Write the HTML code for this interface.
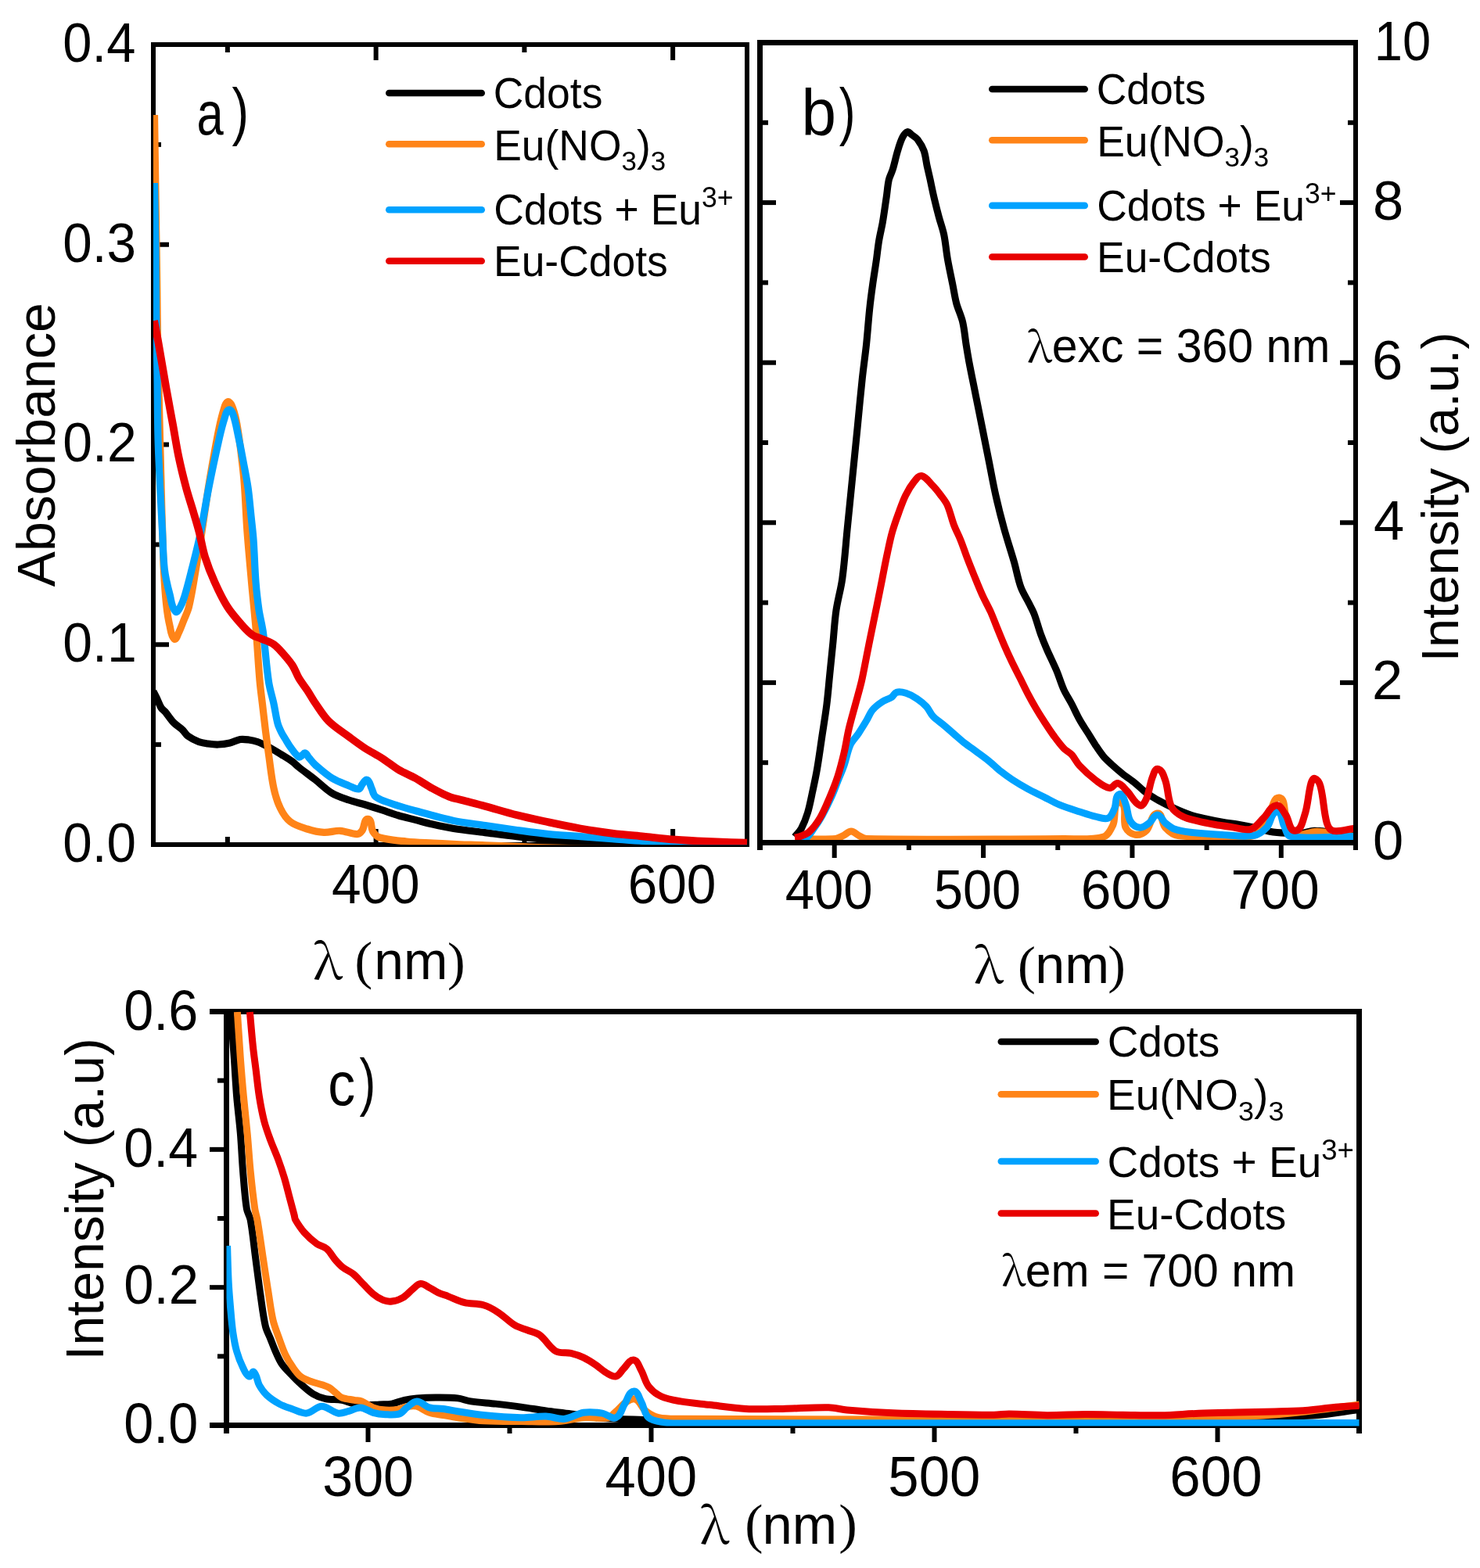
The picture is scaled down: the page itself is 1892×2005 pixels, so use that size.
<!DOCTYPE html>
<html><head><meta charset="utf-8"><title>Figure</title><style>html,body{margin:0;padding:0;background:#fff;overflow:hidden}svg{display:block}</style></head><body>
<svg width="1892" height="2005" viewBox="0 0 1892 2005">
<rect width="1892" height="2005" fill="#fff"/>
<defs><clipPath id="ca"><rect x="196" y="57" width="759.5" height="1023.3"/></clipPath><clipPath id="cb"><rect x="975" y="58" width="755" height="1016"/></clipPath><clipPath id="cc"><rect x="289.5" y="1293.5" width="1448" height="530"/></clipPath></defs>
<rect x="193" y="54" width="6" height="1029" fill="#000"/>
<rect x="952" y="54" width="6" height="1029" fill="#000"/>
<rect x="193" y="54" width="765" height="6" fill="#000"/>
<rect x="193" y="1077" width="765" height="6" fill="#000"/>
<rect x="199" y="821.2500000000001" width="17" height="6.0" fill="#000"/>
<rect x="199" y="565.5" width="17" height="6.0" fill="#000"/>
<rect x="199" y="309.75000000000006" width="17" height="6.0" fill="#000"/>
<rect x="199" y="949.125" width="7" height="6.0" fill="#000"/>
<rect x="199" y="693.375" width="7" height="6.0" fill="#000"/>
<rect x="199" y="437.62500000000006" width="7" height="6.0" fill="#000"/>
<rect x="199" y="181.8750000000001" width="7" height="6.0" fill="#000"/>
<rect x="477.625" y="1060" width="6.0" height="17" fill="#000"/>
<rect x="477.625" y="60" width="6.0" height="17" fill="#000"/>
<rect x="857.125" y="1060" width="6.0" height="17" fill="#000"/>
<rect x="857.125" y="60" width="6.0" height="17" fill="#000"/>
<rect x="287.875" y="1070" width="6.0" height="7" fill="#000"/>
<rect x="287.875" y="60" width="6.0" height="7" fill="#000"/>
<rect x="667.375" y="1070" width="6.0" height="7" fill="#000"/>
<rect x="667.375" y="60" width="6.0" height="7" fill="#000"/>
<rect x="968" y="51" width="7" height="1036" fill="#000"/>
<rect x="1730" y="51" width="6" height="1036" fill="#000"/>
<rect x="968" y="51" width="768" height="7" fill="#000"/>
<rect x="968" y="1074" width="768" height="7" fill="#000"/>
<rect x="975" y="869.9" width="17" height="6.0" fill="#000"/>
<rect x="1713" y="869.9" width="17" height="6.0" fill="#000"/>
<rect x="975" y="665.3" width="17" height="6.0" fill="#000"/>
<rect x="1713" y="665.3" width="17" height="6.0" fill="#000"/>
<rect x="975" y="460.70000000000005" width="17" height="6.0" fill="#000"/>
<rect x="1713" y="460.70000000000005" width="17" height="6.0" fill="#000"/>
<rect x="975" y="256.1" width="17" height="6.0" fill="#000"/>
<rect x="1713" y="256.1" width="17" height="6.0" fill="#000"/>
<rect x="975" y="972.2" width="7" height="6.0" fill="#000"/>
<rect x="1723" y="972.2" width="7" height="6.0" fill="#000"/>
<rect x="975" y="767.6" width="7" height="6.0" fill="#000"/>
<rect x="1723" y="767.6" width="7" height="6.0" fill="#000"/>
<rect x="975" y="563.0" width="7" height="6.0" fill="#000"/>
<rect x="1723" y="563.0" width="7" height="6.0" fill="#000"/>
<rect x="975" y="358.4" width="7" height="6.0" fill="#000"/>
<rect x="1723" y="358.4" width="7" height="6.0" fill="#000"/>
<rect x="975" y="153.80000000000007" width="7" height="6.0" fill="#000"/>
<rect x="1723" y="153.80000000000007" width="7" height="6.0" fill="#000"/>
<rect x="1063.6875" y="1081" width="6.0" height="16" fill="#000"/>
<rect x="1254.0625" y="1081" width="6.0" height="16" fill="#000"/>
<rect x="1444.4375" y="1081" width="6.0" height="16" fill="#000"/>
<rect x="1634.8125" y="1081" width="6.0" height="16" fill="#000"/>
<rect x="1158.875" y="1081" width="6.0" height="6" fill="#000"/>
<rect x="1349.25" y="1081" width="6.0" height="6" fill="#000"/>
<rect x="1539.625" y="1081" width="6.0" height="6" fill="#000"/>
<rect x="286" y="1290" width="7" height="543" fill="#000"/>
<rect x="1734" y="1290" width="7" height="543" fill="#000"/>
<rect x="268" y="1290" width="1473" height="7" fill="#000"/>
<rect x="268" y="1819" width="1473" height="7" fill="#000"/>
<rect x="268" y="1643.1666666666667" width="18" height="6.0" fill="#000"/>
<rect x="268" y="1466.8333333333333" width="18" height="6.0" fill="#000"/>
<rect x="278" y="1731.3333333333333" width="8" height="6.0" fill="#000"/>
<rect x="278" y="1555.0" width="8" height="6.0" fill="#000"/>
<rect x="278" y="1378.6666666666665" width="8" height="6.0" fill="#000"/>
<rect x="467.5" y="1826" width="6.0" height="18" fill="#000"/>
<rect x="829.5" y="1826" width="6.0" height="18" fill="#000"/>
<rect x="1191.5" y="1826" width="6.0" height="18" fill="#000"/>
<rect x="1553.5" y="1826" width="6.0" height="18" fill="#000"/>
<rect x="648.5" y="1826" width="6.0" height="7" fill="#000"/>
<rect x="1010.5" y="1826" width="6.0" height="7" fill="#000"/>
<rect x="1372.5" y="1826" width="6.0" height="7" fill="#000"/>
<path d="M196.0,884.0 C197.3,886.7 198.7,889.3 200.0,892.0 C202.1,896.3 203.5,900.9 206.0,905.0 C207.2,907.0 209.5,908.2 211.0,910.0 C214.8,914.5 217.9,919.7 222.0,924.0 C225.3,927.4 229.6,929.7 233.0,933.0 C235.6,935.4 237.1,938.9 240.0,941.0 C244.3,944.1 249.1,946.6 254.0,948.5 C257.8,950.0 262.0,950.4 266.0,951.0 C270.3,951.6 274.7,952.2 279.0,952.0 C284.0,951.8 289.1,951.1 294.0,950.0 C298.5,949.0 302.5,946.3 307.0,945.5 C310.6,944.9 314.4,945.5 318.0,946.0 C321.7,946.5 325.5,947.2 329.0,948.5 C333.8,950.2 338.5,952.6 343.0,955.0 C348.8,958.1 354.4,961.6 360.0,965.0 C364.7,967.9 369.5,970.7 374.0,974.0 C376.9,976.1 379.2,978.8 382.0,981.0 C388.9,986.5 396.1,991.6 403.0,997.0 C410.1,1002.6 416.3,1009.3 424.0,1014.0 C430.8,1018.1 438.5,1020.4 446.0,1023.0 C452.9,1025.4 460.0,1026.9 467.0,1029.0 C474.0,1031.1 481.0,1033.4 488.0,1035.7 C495.3,1038.1 502.6,1040.8 510.0,1043.0 C516.9,1045.0 524.0,1046.6 531.0,1048.4 C538.0,1050.2 545.0,1052.2 552.0,1053.8 C561.3,1055.9 570.6,1058.0 580.0,1059.5 C593.3,1061.6 606.7,1062.9 620.0,1064.6 C633.7,1066.3 647.3,1068.1 661.0,1069.6 C674.3,1071.1 687.6,1072.5 701.0,1073.7 C714.7,1074.9 728.3,1075.9 742.0,1076.7 C755.3,1077.5 768.7,1078.2 782.0,1078.7 C798.0,1079.3 814.0,1079.8 830.0,1080.0 C871.7,1080.6 913.3,1080.7 955.0,1081.0" fill="none" stroke="#000000" stroke-width="9.2" stroke-linejoin="round" stroke-linecap="butt" clip-path="url(#ca)"/>
<path d="M197.5,147.0 C198.0,181.3 198.5,215.7 199.0,250.0 C199.5,283.3 200.0,316.7 200.5,350.0 C200.9,376.7 201.1,403.3 201.5,430.0 C201.9,453.3 202.5,476.7 203.0,500.0 C203.5,520.0 204.0,540.0 204.5,560.0 C205.0,580.0 205.5,600.0 206.0,620.0 C206.6,643.3 207.2,666.7 208.0,690.0 C208.6,706.7 209.0,723.3 210.0,740.0 C210.7,752.0 211.6,764.0 213.0,776.0 C213.9,784.1 215.1,792.1 217.0,800.0 C218.4,805.8 218.4,813.0 222.8,817.0 C225.0,819.0 226.7,812.6 228.0,810.0 C230.8,804.5 232.7,798.7 235.0,793.0 C237.2,787.4 240.1,781.9 241.5,776.0 C245.1,760.8 247.4,745.4 250.0,730.0 C252.9,713.4 255.4,696.7 258.0,680.0 C260.8,662.0 263.2,644.0 266.0,626.0 C268.2,612.3 270.6,598.6 273.0,585.0 C275.2,572.6 277.4,560.3 280.0,548.0 C281.7,539.9 283.5,531.9 286.0,524.0 C287.1,520.5 287.6,515.9 290.8,514.0 C292.7,512.9 295.1,516.0 296.0,518.0 C298.9,524.3 300.6,531.2 302.0,538.0 C304.2,548.6 305.6,559.3 307.0,570.0 C308.9,585.0 310.8,600.0 312.0,615.0 C313.8,636.6 314.4,658.4 316.0,680.0 C317.6,701.4 319.6,722.7 321.5,744.0 C323.4,765.3 325.7,786.6 327.5,808.0 C329.2,828.6 330.2,849.4 332.0,870.0 C333.0,881.7 334.7,893.3 336.0,905.0 C337.2,915.0 338.3,925.0 339.5,935.0 C340.8,945.0 342.1,955.0 343.5,965.0 C345.6,979.3 346.9,993.8 350.0,1008.0 C351.9,1016.7 354.4,1025.5 358.4,1033.5 C361.5,1039.9 365.4,1046.3 371.0,1050.6 C377.2,1055.4 385.1,1057.6 392.6,1060.0 C399.5,1062.2 406.7,1064.0 414.0,1064.4 C421.0,1064.8 428.0,1061.9 435.0,1062.3 C442.3,1062.7 449.2,1066.7 456.5,1066.6 C459.2,1066.6 461.4,1064.2 463.0,1062.0 C466.2,1057.6 465.0,1046.8 470.4,1047.4 C476.1,1048.0 473.7,1058.6 476.8,1063.4 C478.9,1066.7 481.9,1069.9 485.6,1071.0 C496.6,1074.2 508.3,1074.8 519.7,1076.0 C531.0,1077.2 542.4,1077.4 553.8,1078.0 C565.2,1078.6 576.6,1079.3 588.0,1079.8 C598.7,1080.2 609.3,1080.3 620.0,1080.8 C638.3,1081.4 656.7,1082.5 675.0,1083.1 C700.0,1083.9 725.0,1084.7 750.0,1085.0 C818.3,1085.7 886.7,1085.7 955.0,1086.0" fill="none" stroke="#FF8418" stroke-width="9.2" stroke-linejoin="round" stroke-linecap="butt" clip-path="url(#ca)"/>
<path d="M197.5,234.0 C198.0,262.7 198.6,291.3 199.0,320.0 C199.3,346.7 199.3,373.3 199.6,400.0 C199.9,426.7 200.6,453.3 201.0,480.0 C201.4,506.7 201.3,533.3 202.0,560.0 C202.5,580.0 203.6,600.0 204.5,620.0 C205.4,640.0 206.5,660.0 207.6,680.0 C208.5,696.0 208.4,712.1 210.3,728.0 C211.6,738.8 214.2,749.5 217.0,760.0 C219.0,767.5 219.1,776.3 224.4,782.0 C226.6,784.3 229.4,777.8 231.0,775.0 C233.6,770.3 235.2,765.1 236.7,760.0 C239.9,749.4 242.5,738.7 245.2,728.0 C248.8,713.7 252.6,699.4 255.6,685.0 C259.8,664.8 262.8,644.3 266.8,624.0 C271.0,602.6 275.6,581.3 280.4,560.0 C282.3,551.6 284.3,543.2 287.0,535.0 C288.3,531.1 288.7,525.7 292.4,524.0 C294.9,522.9 297.1,527.4 298.0,530.0 C301.4,539.7 302.9,550.0 305.1,560.0 C307.3,570.0 309.1,580.0 311.0,590.0 C313.1,601.3 315.5,612.6 317.1,624.0 C318.8,635.9 319.7,648.0 321.0,660.0 C322.0,670.0 323.3,680.0 324.0,690.0 C325.3,708.0 325.6,726.0 327.0,744.0 C327.9,756.0 329.3,768.1 331.0,780.0 C332.4,789.4 335.0,798.6 336.3,808.0 C339.2,829.3 340.3,850.8 343.5,872.0 C344.9,881.5 348.0,890.6 350.0,900.0 C351.8,908.3 352.8,916.8 355.0,925.0 C356.1,929.2 358.1,933.1 360.0,937.0 C361.4,939.8 363.2,942.3 364.8,945.0 C366.8,948.3 368.7,951.9 371.0,955.0 C374.4,959.5 377.4,964.6 382.0,968.0 C383.2,968.9 384.7,966.8 386.0,966.0 C387.4,965.1 388.4,962.5 390.0,963.0 C392.5,963.8 393.3,967.0 395.0,969.0 C397.6,972.0 400.0,975.3 403.0,978.0 C409.9,984.0 416.7,990.2 424.5,995.0 C431.2,999.1 438.7,1001.7 446.0,1004.7 C450.1,1006.4 454.3,1009.4 458.7,1009.0 C461.1,1008.8 461.3,1004.8 463.0,1003.0 C464.9,1000.9 466.7,996.2 469.3,997.3 C473.0,998.9 473.2,1004.4 475.0,1008.0 C476.8,1011.5 476.9,1016.2 480.0,1018.6 C485.4,1022.9 492.5,1024.7 499.0,1027.0 C509.5,1030.7 520.3,1033.7 531.0,1036.7 C547.3,1041.2 563.5,1045.9 580.0,1049.4 C593.4,1052.2 607.0,1053.5 620.5,1055.5 C634.0,1057.5 647.5,1059.6 661.0,1061.5 C674.5,1063.3 688.0,1065.2 701.5,1066.6 C715.0,1067.9 728.5,1068.6 742.0,1069.6 C755.5,1070.6 769.1,1071.7 782.6,1072.7 C796.1,1073.7 809.5,1074.9 823.0,1075.7 C836.5,1076.5 850.1,1077.4 863.6,1077.7 C894.1,1078.3 924.5,1078.2 955.0,1078.5" fill="none" stroke="#00A2FF" stroke-width="9.2" stroke-linejoin="round" stroke-linecap="butt" clip-path="url(#ca)"/>
<path d="M197.0,410.0 C198.9,420.0 201.0,430.0 202.8,440.0 C206.1,458.6 209.1,477.4 212.4,496.0 C215.2,512.0 218.3,528.0 221.2,544.0 C223.6,557.3 225.6,570.7 228.4,584.0 C231.2,597.4 234.5,610.8 238.0,624.0 C240.9,634.8 244.5,645.3 247.6,656.0 C250.0,664.0 252.4,671.9 254.5,680.0 C257.2,690.6 258.8,701.5 262.0,712.0 C265.4,722.9 269.6,733.6 274.3,744.0 C279.2,754.9 284.3,765.9 290.8,776.0 C296.3,784.6 303.2,792.3 310.0,800.0 C313.9,804.4 317.9,808.7 322.7,812.0 C326.0,814.3 330.3,815.1 334.0,816.7 C339.4,819.1 345.2,820.6 350.0,824.0 C354.9,827.4 358.7,832.2 362.7,836.7 C366.7,841.2 370.7,845.9 374.0,851.0 C377.2,856.0 379.0,861.9 382.0,867.0 C385.3,872.6 389.4,877.6 393.0,883.0 C396.5,888.3 399.4,893.8 403.0,899.0 C408.4,906.8 413.3,915.3 420.0,922.0 C427.7,929.7 437.2,935.5 446.0,942.0 C452.9,947.1 459.8,952.3 467.0,957.0 C474.0,961.5 481.5,965.1 488.5,969.6 C495.8,974.3 502.5,980.0 510.0,984.5 C516.7,988.5 524.2,991.2 531.0,995.0 C538.3,999.1 545.2,1004.0 552.5,1008.0 C559.5,1011.8 566.6,1015.6 574.0,1018.6 C579.1,1020.7 584.7,1021.6 590.0,1023.0 C600.2,1025.7 610.4,1028.2 620.5,1031.0 C634.0,1034.7 647.4,1038.9 661.0,1042.3 C674.4,1045.7 688.0,1048.5 701.5,1051.4 C715.0,1054.3 728.4,1057.1 742.0,1059.5 C755.5,1061.9 769.0,1063.9 782.6,1065.6 C796.0,1067.3 809.5,1068.3 823.0,1069.6 C836.5,1071.0 850.0,1072.6 863.6,1073.7 C877.0,1074.8 890.5,1075.4 904.0,1076.0 C921.0,1076.7 938.0,1077.1 955.0,1077.7" fill="none" stroke="#E80000" stroke-width="9.8" stroke-linejoin="round" stroke-linecap="butt" clip-path="url(#ca)"/>
<path d="M1016.0,1070.0 C1018.8,1066.5 1022.3,1063.4 1024.4,1059.5 C1027.8,1053.1 1030.4,1046.2 1032.5,1039.3 C1035.1,1030.7 1036.7,1021.7 1038.6,1012.9 C1040.8,1002.8 1043.0,992.8 1044.7,982.6 C1047.0,969.1 1048.8,955.5 1050.8,942.0 C1052.8,928.5 1055.1,915.0 1056.8,901.5 C1058.5,888.0 1059.5,874.5 1060.9,861.0 C1062.3,847.5 1063.6,834.0 1065.0,820.5 C1066.3,807.0 1067.0,793.4 1069.0,780.0 C1071.0,766.5 1075.0,753.3 1076.8,739.8 C1079.7,718.6 1081.1,697.2 1083.2,675.9 C1085.3,654.6 1087.5,633.3 1089.6,612.0 C1091.7,590.7 1093.9,569.3 1096.0,548.0 C1098.1,526.7 1100.0,505.3 1102.3,484.0 C1103.9,469.3 1106.0,454.7 1107.6,440.0 C1109.1,425.4 1110.1,410.6 1111.6,396.0 C1112.7,385.3 1114.1,374.6 1115.6,364.0 C1117.1,353.3 1118.9,342.7 1120.4,332.0 C1121.5,324.0 1122.3,316.0 1123.6,308.0 C1124.9,300.0 1127.0,292.0 1128.4,284.0 C1130.2,273.4 1131.6,262.7 1133.2,252.0 C1134.3,244.5 1134.7,237.0 1136.4,229.6 C1137.4,225.2 1139.9,221.2 1141.2,216.8 C1143.6,208.9 1145.2,200.7 1147.6,192.8 C1149.4,186.8 1151.1,180.7 1154.0,175.2 C1155.4,172.5 1157.4,169.3 1160.3,168.5 C1162.2,168.0 1163.5,170.8 1165.1,172.0 C1167.8,174.1 1171.0,175.7 1173.1,178.4 C1176.4,182.8 1179.3,187.6 1181.1,192.8 C1183.3,199.0 1183.7,205.6 1185.1,212.0 C1186.4,217.9 1187.8,223.7 1189.1,229.6 C1190.7,237.1 1192.2,244.6 1193.9,252.0 C1195.9,260.5 1198.0,269.0 1200.3,277.5 C1202.3,285.0 1205.1,292.4 1206.7,300.0 C1208.9,310.6 1209.6,321.4 1211.5,332.0 C1213.4,342.7 1215.8,353.3 1217.9,364.0 C1219.5,372.0 1220.6,380.1 1222.7,388.0 C1224.9,396.1 1228.8,403.7 1230.7,411.9 C1232.9,421.1 1233.5,430.6 1235.0,440.0 C1236.2,447.5 1237.4,455.1 1238.8,462.6 C1241.5,476.9 1244.5,491.1 1247.3,505.3 C1250.2,519.5 1253.0,533.8 1255.9,548.0 C1258.7,562.2 1261.6,576.4 1264.4,590.6 C1267.2,604.8 1269.7,619.1 1272.9,633.2 C1276.1,647.5 1279.7,661.8 1283.6,675.9 C1287.5,690.2 1292.3,704.2 1296.4,718.5 C1299.4,729.1 1301.2,740.1 1304.9,750.5 C1307.6,758.0 1312.1,764.7 1315.6,771.8 C1317.8,776.2 1320.3,780.4 1322.0,785.0 C1325.2,793.3 1327.3,802.0 1330.3,810.4 C1332.8,817.2 1335.5,823.9 1338.4,830.6 C1342.3,839.5 1346.7,848.1 1350.5,857.0 C1354.0,865.2 1356.3,873.9 1360.0,882.0 C1362.9,888.3 1366.9,894.1 1370.1,900.3 C1373.6,907.0 1376.6,913.9 1380.3,920.5 C1383.4,926.1 1387.0,931.3 1390.4,936.7 C1393.8,942.1 1397.0,947.6 1400.5,952.9 C1403.7,957.7 1406.9,962.6 1410.6,967.1 C1413.7,970.8 1417.3,974.0 1420.8,977.2 C1425.4,981.4 1430.1,985.5 1435.0,989.4 C1440.2,993.6 1445.9,997.3 1451.1,1001.5 C1456.0,1005.4 1460.3,1010.0 1465.3,1013.7 C1470.4,1017.5 1475.9,1020.7 1481.5,1023.8 C1488.1,1027.5 1494.9,1030.8 1501.8,1033.9 C1508.4,1036.9 1515.1,1039.8 1522.0,1042.0 C1528.6,1044.2 1535.5,1045.6 1542.3,1047.1 C1549.0,1048.6 1555.8,1050.0 1562.6,1051.2 C1569.3,1052.4 1576.1,1053.0 1582.8,1054.2 C1589.6,1055.4 1596.4,1056.7 1603.1,1058.2 C1609.9,1059.7 1616.5,1062.1 1623.3,1063.3 C1630.0,1064.5 1636.8,1065.0 1643.6,1065.3 C1650.3,1065.6 1657.1,1065.9 1663.8,1065.3 C1669.3,1064.8 1674.5,1062.4 1680.0,1062.3 C1688.1,1062.1 1696.2,1063.8 1704.3,1064.3 C1713.2,1064.8 1722.1,1065.0 1731.0,1065.3" fill="none" stroke="#000000" stroke-width="9" stroke-linejoin="round" stroke-linecap="butt" clip-path="url(#cb)"/>
<path d="M1016.0,1072.5 C1033.3,1072.5 1050.7,1073.6 1068.0,1072.5 C1071.6,1072.3 1074.8,1070.0 1078.0,1068.5 C1081.5,1066.9 1084.3,1063.0 1088.2,1063.0 C1091.9,1063.0 1094.6,1066.9 1098.0,1068.5 C1101.2,1070.1 1104.4,1072.4 1108.0,1072.5 C1192.0,1073.8 1276.0,1073.2 1360.0,1072.5 C1376.9,1072.4 1394.3,1074.5 1410.6,1070.0 C1416.8,1068.3 1420.0,1060.8 1422.8,1055.0 C1427.2,1045.9 1422.0,1024.0 1431.9,1026.0 C1442.7,1028.1 1434.4,1048.2 1439.0,1058.2 C1441.1,1062.8 1446.1,1066.6 1451.1,1067.4 C1456.1,1068.2 1461.7,1065.8 1465.3,1062.3 C1471.6,1056.2 1470.8,1041.5 1479.5,1040.0 C1486.3,1038.8 1484.9,1053.1 1489.6,1058.2 C1493.9,1062.9 1499.4,1067.8 1505.8,1068.4 C1538.1,1071.3 1571.6,1076.5 1603.0,1068.4 C1614.8,1065.3 1616.5,1048.1 1623.3,1038.0 C1627.3,1032.0 1628.4,1018.6 1635.5,1020.0 C1643.2,1021.5 1641.0,1034.6 1643.6,1042.0 C1646.4,1050.1 1644.1,1062.3 1651.7,1066.3 C1661.3,1071.3 1673.3,1062.9 1684.1,1063.3 C1699.9,1063.9 1715.4,1067.4 1731.0,1069.4" fill="none" stroke="#FF8418" stroke-width="9" stroke-linejoin="round" stroke-linecap="butt" clip-path="url(#cb)"/>
<path d="M1020.0,1072.0 C1023.5,1071.9 1027.5,1073.5 1030.5,1071.7 C1034.8,1069.1 1037.1,1064.1 1040.0,1060.0 C1043.9,1054.6 1047.6,1049.1 1050.8,1043.3 C1055.2,1035.4 1059.2,1027.2 1062.9,1019.0 C1065.9,1012.4 1068.3,1005.5 1071.0,998.8 C1073.7,992.0 1076.7,985.4 1079.1,978.5 C1082.1,969.8 1083.4,960.6 1087.2,952.2 C1089.6,946.9 1094.2,942.8 1097.4,938.0 C1100.9,932.7 1104.2,927.3 1107.5,921.8 C1110.3,917.1 1112.1,911.8 1115.6,907.6 C1119.0,903.6 1123.3,900.4 1127.7,897.5 C1131.5,895.0 1136.1,893.9 1139.9,891.4 C1142.3,889.8 1143.2,886.1 1146.0,885.3 C1149.9,884.2 1154.2,885.1 1158.1,886.3 C1163.2,887.9 1167.9,890.5 1172.3,893.4 C1176.7,896.3 1180.8,899.7 1184.4,903.6 C1187.7,907.2 1189.3,912.1 1192.6,915.7 C1196.1,919.6 1200.7,922.4 1204.7,925.8 C1209.5,929.8 1214.2,933.9 1218.9,938.0 C1223.6,942.0 1228.2,946.3 1233.1,950.1 C1237.7,953.7 1242.5,956.9 1247.2,960.3 C1252.6,964.3 1258.2,968.2 1263.4,972.4 C1269.0,976.9 1274.1,982.1 1279.7,986.6 C1284.2,990.2 1288.9,993.6 1293.8,996.7 C1300.4,1001.0 1307.2,1005.1 1314.1,1008.9 C1320.7,1012.5 1327.6,1015.6 1334.3,1019.0 C1341.1,1022.4 1347.6,1026.2 1354.6,1029.1 C1363.0,1032.6 1371.7,1035.2 1380.3,1038.0 C1387.0,1040.2 1393.6,1042.6 1400.5,1044.1 C1405.8,1045.3 1411.7,1048.2 1416.7,1046.1 C1421.2,1044.2 1422.7,1038.3 1424.8,1033.9 C1427.5,1028.1 1425.0,1018.2 1430.9,1015.7 C1435.4,1013.8 1437.1,1023.4 1439.0,1027.9 C1441.9,1035.0 1441.1,1043.5 1445.1,1050.1 C1447.6,1054.3 1452.4,1057.8 1457.2,1058.2 C1461.7,1058.6 1465.7,1054.9 1469.4,1052.2 C1473.3,1049.4 1474.7,1042.0 1479.5,1042.0 C1484.3,1042.0 1485.9,1049.2 1489.6,1052.2 C1493.4,1055.3 1497.2,1058.6 1501.8,1060.3 C1508.2,1062.7 1515.2,1063.5 1522.0,1064.3 C1535.5,1065.9 1549.0,1066.7 1562.6,1067.4 C1576.1,1068.1 1589.8,1070.6 1603.1,1068.4 C1609.4,1067.4 1614.9,1062.8 1619.3,1058.2 C1624.9,1052.4 1624.4,1038.7 1632.4,1038.0 C1639.2,1037.4 1638.3,1050.2 1641.6,1056.2 C1644.1,1060.7 1644.6,1068.6 1649.7,1069.4 C1676.5,1073.4 1703.9,1069.4 1731.0,1069.4" fill="none" stroke="#00A2FF" stroke-width="9" stroke-linejoin="round" stroke-linecap="butt" clip-path="url(#cb)"/>
<path d="M1016.0,1071.0 C1018.1,1070.6 1020.4,1070.5 1022.4,1069.7 C1026.6,1068.0 1031.3,1066.7 1034.6,1063.6 C1040.2,1058.4 1044.8,1051.9 1048.7,1045.3 C1053.6,1037.0 1057.1,1027.9 1060.9,1019.0 C1064.6,1010.4 1068.1,1001.6 1071.0,992.7 C1074.2,982.7 1076.7,972.5 1079.1,962.3 C1081.5,952.2 1082.8,942.0 1085.2,931.9 C1087.6,921.7 1090.6,911.6 1093.3,901.5 C1096.0,891.4 1099.0,881.3 1101.4,871.1 C1103.7,861.1 1105.5,850.9 1107.5,840.8 C1109.5,830.7 1111.5,820.5 1113.6,810.4 C1116.2,797.5 1118.9,784.7 1121.5,771.8 C1123.7,761.1 1125.8,750.5 1127.9,739.8 C1130.0,729.1 1132.0,718.4 1134.3,707.8 C1136.3,698.5 1138.1,689.2 1140.7,680.1 C1143.1,671.4 1146.2,663.0 1149.3,654.5 C1151.9,647.3 1154.4,640.0 1157.8,633.2 C1160.8,627.2 1164.2,621.4 1168.4,616.2 C1171.0,613.0 1174.0,607.8 1178.0,608.5 C1184.0,609.6 1187.6,616.1 1191.9,620.4 C1195.8,624.3 1199.3,628.8 1202.6,633.2 C1205.7,637.3 1209.0,641.3 1211.1,646.0 C1214.7,654.2 1216.4,663.2 1219.6,671.6 C1222.1,678.1 1225.5,684.3 1228.1,690.8 C1231.2,698.5 1233.7,706.4 1236.7,714.2 C1239.4,721.4 1242.3,728.5 1245.2,735.6 C1248.7,744.2 1252.1,752.8 1255.9,761.2 C1259.2,768.4 1263.2,775.3 1266.5,782.5 C1269.6,789.5 1272.2,796.7 1275.1,803.8 C1277.9,810.7 1280.7,817.7 1283.7,824.6 C1286.9,832.1 1290.3,839.5 1293.8,846.8 C1297.1,853.6 1300.6,860.3 1304.0,867.1 C1307.4,873.9 1310.6,880.7 1314.1,887.4 C1317.3,893.5 1320.7,899.6 1324.2,905.6 C1327.4,911.1 1330.8,916.5 1334.3,921.8 C1338.3,927.9 1342.2,934.1 1346.5,940.0 C1350.8,945.8 1355.0,951.7 1360.0,957.0 C1363.0,960.1 1367.2,961.9 1370.1,965.1 C1374.0,969.4 1376.3,975.0 1380.3,979.3 C1386.5,985.9 1393.2,992.1 1400.5,997.5 C1406.1,1001.6 1411.8,1006.6 1418.7,1007.6 C1422.6,1008.2 1425.0,1000.8 1428.9,1001.5 C1434.1,1002.5 1437.3,1008.0 1441.0,1011.7 C1446.7,1017.5 1449.7,1026.8 1457.2,1029.9 C1460.7,1031.4 1463.8,1025.3 1465.3,1021.8 C1469.3,1012.8 1469.8,1002.6 1473.4,993.4 C1474.9,989.6 1476.5,982.3 1480.5,983.3 C1486.0,984.7 1487.7,992.2 1489.6,997.5 C1493.5,1008.6 1492.6,1021.3 1497.7,1031.9 C1500.4,1037.5 1506.4,1041.2 1511.9,1044.1 C1518.1,1047.4 1525.4,1048.4 1532.2,1050.1 C1538.9,1051.8 1545.6,1053.0 1552.4,1054.2 C1559.1,1055.4 1565.9,1056.3 1572.7,1057.2 C1581.5,1058.3 1590.5,1062.5 1599.0,1060.3 C1605.9,1058.5 1610.0,1051.0 1615.2,1046.1 C1620.8,1040.9 1623.8,1031.0 1631.4,1029.9 C1637.1,1029.1 1640.2,1037.4 1643.6,1042.0 C1648.3,1048.3 1647.8,1062.3 1655.7,1062.3 C1663.6,1062.3 1665.4,1049.5 1667.9,1042.0 C1672.3,1028.9 1672.3,1014.8 1676.0,1001.5 C1676.7,999.0 1678.5,994.7 1681.0,995.5 C1684.9,996.8 1687.0,1001.6 1688.1,1005.6 C1692.2,1020.8 1691.9,1037.0 1696.2,1052.2 C1697.4,1056.3 1700.1,1061.4 1704.3,1062.3 C1713.1,1064.1 1722.1,1060.3 1731.0,1059.3" fill="none" stroke="#E80000" stroke-width="9" stroke-linejoin="round" stroke-linecap="butt" clip-path="url(#cb)"/>
<path d="M295.0,1294.0 C296.5,1314.0 298.0,1334.0 299.4,1354.0 C300.5,1370.0 301.3,1386.0 302.6,1402.0 C303.9,1418.0 306.1,1434.0 307.4,1450.0 C308.7,1466.0 309.3,1482.0 310.6,1498.0 C311.9,1514.0 312.9,1530.0 315.4,1545.9 C316.2,1550.8 319.3,1555.1 320.2,1560.0 C323.1,1575.9 324.5,1592.0 326.6,1608.0 C328.7,1624.0 330.7,1640.0 333.0,1656.0 C334.9,1669.4 336.4,1682.8 339.4,1696.0 C340.7,1701.6 343.7,1706.7 345.8,1712.0 C347.9,1717.3 349.8,1722.8 352.2,1728.0 C354.6,1733.4 356.9,1739.0 360.2,1744.0 C363.3,1748.7 367.5,1752.6 371.4,1756.7 C375.5,1761.1 379.7,1765.5 384.2,1769.5 C389.3,1774.0 394.3,1778.8 400.1,1782.3 C405.0,1785.3 410.5,1787.5 416.1,1788.7 C422.9,1790.2 430.0,1789.1 436.9,1790.3 C442.4,1791.3 447.4,1794.0 452.9,1795.1 C458.2,1796.2 463.5,1796.6 468.9,1796.7 C474.2,1796.8 479.6,1796.2 484.9,1795.9 C490.2,1795.6 495.6,1796.0 500.9,1795.1 C506.4,1794.1 511.5,1791.5 516.9,1790.3 C522.2,1789.1 527.5,1788.3 532.9,1787.9 C540.9,1787.3 548.9,1787.1 556.9,1787.1 C566.3,1787.1 575.7,1786.9 585.0,1787.9 C590.8,1788.5 596.2,1791.1 602.0,1791.9 C612.6,1793.5 623.3,1793.9 634.0,1795.1 C644.7,1796.3 655.4,1797.6 666.0,1799.1 C676.7,1800.6 687.2,1802.4 697.9,1803.9 C708.5,1805.4 719.3,1806.4 729.9,1807.9 C740.6,1809.4 751.2,1811.5 761.9,1812.7 C770.4,1813.6 779.0,1813.9 787.5,1814.3 C795.0,1814.7 802.4,1814.9 809.9,1815.1 C829.9,1815.7 850.0,1816.7 870.0,1816.7 C980.0,1816.7 1090.0,1815.5 1200.0,1815.0 C1315.0,1814.5 1430.0,1814.7 1545.0,1813.5 C1589.3,1813.0 1633.7,1812.5 1678.0,1810.0 C1698.1,1808.9 1718.0,1805.0 1738.0,1802.5" fill="none" stroke="#000000" stroke-width="9" stroke-linejoin="round" stroke-linecap="butt" clip-path="url(#cc)"/>
<path d="M303.4,1294.0 C304.7,1314.0 305.9,1334.0 307.4,1354.0 C308.6,1370.0 309.9,1386.0 311.4,1402.0 C312.9,1418.0 314.7,1434.0 316.2,1450.0 C317.7,1466.0 318.6,1482.0 320.2,1498.0 C321.8,1514.0 323.5,1530.0 325.8,1545.9 C326.5,1550.7 328.2,1555.2 329.0,1560.0 C331.7,1576.0 333.8,1592.0 336.2,1608.0 C338.3,1621.9 340.4,1635.7 342.6,1649.6 C344.7,1662.4 346.1,1675.4 349.0,1688.0 C350.9,1696.2 354.2,1704.1 357.0,1712.0 C359.5,1719.0 361.8,1726.0 365.0,1732.7 C367.7,1738.3 371.0,1743.6 374.6,1748.7 C377.4,1752.7 380.3,1756.9 384.2,1760.0 C387.9,1762.9 392.6,1764.6 397.0,1766.3 C402.2,1768.3 407.7,1769.3 412.9,1771.1 C415.6,1772.0 418.4,1772.8 420.9,1774.3 C423.8,1776.1 426.2,1778.6 428.9,1780.7 C431.6,1782.8 433.7,1785.8 436.9,1787.1 C441.9,1789.1 447.6,1789.3 452.9,1790.3 C456.1,1790.9 459.5,1790.7 462.5,1791.9 C467.6,1793.9 471.7,1798.0 476.9,1799.9 C482.0,1801.8 487.5,1802.7 492.9,1803.1 C498.2,1803.5 503.6,1803.2 508.9,1802.3 C513.3,1801.6 517.3,1799.0 521.7,1798.3 C525.4,1797.7 529.3,1797.2 532.9,1798.3 C538.6,1800.0 543.2,1804.4 548.9,1806.3 C554.6,1808.2 560.6,1808.5 566.5,1809.5 C572.7,1810.6 578.8,1811.8 585.0,1812.7 C596.0,1814.2 606.9,1816.0 618.0,1816.7 C634.0,1817.6 650.0,1817.4 666.0,1817.5 C682.0,1817.6 698.0,1818.5 713.9,1817.5 C724.7,1816.9 735.1,1813.5 745.9,1812.7 C756.5,1811.9 767.4,1814.4 777.9,1812.7 C781.3,1812.2 783.2,1808.3 785.9,1806.3 C793.8,1800.3 800.0,1789.1 809.9,1788.7 C817.4,1788.4 819.9,1800.2 825.9,1804.7 C830.7,1808.3 836.1,1811.4 841.9,1812.7 C851.1,1814.7 860.6,1814.2 870.0,1814.3 C980.0,1815.0 1090.0,1814.9 1200.0,1815.0 C1300.0,1815.1 1400.0,1815.6 1500.0,1815.0 C1520.0,1814.9 1540.0,1814.0 1560.0,1813.0 C1586.7,1811.7 1613.4,1810.3 1640.0,1808.0 C1660.1,1806.3 1680.0,1803.4 1700.0,1801.0 C1712.7,1799.4 1725.3,1797.7 1738.0,1796.0" fill="none" stroke="#FF8418" stroke-width="9" stroke-linejoin="round" stroke-linecap="butt" clip-path="url(#cc)"/>
<path d="M290.6,1593.0 C291.1,1608.7 291.4,1624.3 292.2,1640.0 C292.7,1650.7 293.7,1661.3 294.6,1672.0 C295.5,1682.7 296.3,1693.4 297.8,1704.0 C299.0,1712.0 300.4,1720.1 302.6,1727.9 C304.6,1735.0 307.3,1742.1 310.6,1748.7 C312.7,1752.8 314.3,1758.2 318.6,1760.0 C321.1,1761.0 322.2,1752.6 324.2,1754.3 C328.8,1758.3 328.4,1765.8 331.4,1771.1 C334.0,1775.7 337.1,1780.3 341.0,1783.9 C345.7,1788.4 351.3,1792.0 357.0,1795.1 C362.0,1797.9 367.6,1799.6 373.0,1801.5 C379.3,1803.6 385.5,1807.7 392.1,1807.1 C399.1,1806.5 404.3,1798.3 411.3,1798.3 C418.8,1798.3 424.7,1805.7 432.1,1807.1 C436.4,1807.9 440.7,1805.8 444.9,1804.7 C450.3,1803.3 455.3,1799.6 460.9,1799.9 C466.6,1800.2 471.4,1804.8 476.9,1806.3 C482.1,1807.7 487.5,1808.4 492.9,1808.7 C498.8,1809.0 504.9,1809.7 510.5,1807.9 C514.5,1806.6 516.7,1802.3 520.1,1799.9 C524.2,1797.0 527.9,1791.9 532.9,1791.9 C538.9,1791.9 543.2,1798.3 548.9,1799.9 C554.6,1801.5 560.7,1800.7 566.5,1801.5 C572.7,1802.3 578.8,1803.7 585.0,1804.7 C596.0,1806.4 606.9,1808.4 618.0,1809.5 C634.0,1811.1 650.0,1812.4 666.0,1812.7 C676.6,1812.9 687.3,1810.8 697.9,1811.1 C706.0,1811.3 713.9,1815.1 721.9,1814.3 C730.3,1813.5 737.6,1807.6 745.9,1806.3 C753.8,1805.1 762.0,1805.9 769.9,1807.1 C776.0,1808.0 781.8,1815.1 787.5,1812.7 C793.9,1810.0 794.8,1800.9 798.7,1795.1 C802.3,1789.7 803.5,1780.1 809.9,1779.1 C815.2,1778.3 816.9,1787.3 819.5,1791.9 C823.3,1798.5 823.4,1807.6 829.1,1812.7 C834.5,1817.5 842.8,1817.8 849.9,1819.1 C856.5,1820.3 863.3,1819.9 870.0,1819.9 C1159.3,1820.0 1448.7,1819.6 1738.0,1819.5" fill="none" stroke="#00A2FF" stroke-width="9" stroke-linejoin="round" stroke-linecap="butt" clip-path="url(#cc)"/>
<path d="M319.4,1294.0 C320.7,1308.7 321.9,1323.4 323.4,1338.0 C324.5,1348.7 326.1,1359.3 327.4,1370.0 C328.7,1380.7 329.7,1391.4 331.4,1402.0 C333.1,1412.7 335.1,1423.5 337.8,1434.0 C339.9,1442.2 342.9,1450.1 345.8,1458.0 C348.8,1466.1 352.4,1473.9 355.4,1482.0 C358.3,1489.9 361.0,1497.9 363.4,1505.9 C365.8,1513.8 367.7,1521.9 369.8,1529.9 C371.9,1537.9 374.1,1545.9 376.2,1553.9 C376.7,1555.9 376.7,1558.2 377.8,1560.0 C381.1,1565.6 384.7,1571.1 389.0,1576.0 C393.8,1581.3 399.1,1586.2 404.9,1590.4 C408.8,1593.2 414.1,1593.7 417.7,1596.8 C422.3,1600.8 424.9,1606.6 428.9,1611.2 C431.9,1614.6 434.9,1618.0 438.5,1620.8 C442.5,1623.9 447.4,1625.6 451.3,1628.8 C456.0,1632.6 459.8,1637.3 464.1,1641.6 C468.4,1645.9 472.2,1650.6 476.9,1654.4 C480.8,1657.6 485.0,1660.5 489.7,1662.4 C493.2,1663.8 497.2,1664.5 500.9,1664.0 C505.9,1663.4 510.9,1661.8 515.3,1659.2 C520.2,1656.3 523.6,1651.5 528.1,1648.0 C531.1,1645.6 533.9,1641.9 537.7,1641.6 C541.7,1641.3 545.3,1644.6 548.9,1646.4 C552.7,1648.3 556.2,1651.0 560.1,1652.8 C564.2,1654.7 568.6,1656.0 572.9,1657.6 C579.9,1660.3 586.7,1663.8 594.0,1665.6 C601.8,1667.5 610.3,1666.5 618.0,1668.8 C624.9,1670.8 631.2,1674.5 637.2,1678.4 C644.6,1683.1 650.5,1689.9 658.0,1694.4 C662.9,1697.4 668.7,1698.7 674.0,1700.8 C679.3,1702.9 685.4,1703.7 690.0,1707.1 C697.9,1712.9 702.2,1723.0 710.7,1727.9 C716.3,1731.1 723.6,1728.9 729.9,1730.3 C735.4,1731.6 740.8,1733.5 745.9,1735.9 C751.5,1738.6 756.7,1742.0 761.9,1745.5 C766.3,1748.5 770.1,1752.5 774.7,1755.1 C778.7,1757.3 783.0,1760.9 787.5,1759.9 C791.9,1759.0 793.8,1753.4 797.1,1750.3 C801.3,1746.4 804.2,1738.7 809.9,1739.1 C815.2,1739.5 816.9,1747.3 819.5,1751.9 C823.3,1758.5 824.5,1766.6 829.1,1772.7 C833.2,1778.1 838.9,1782.6 845.1,1785.5 C852.9,1789.1 861.6,1790.4 870.0,1791.9 C882.2,1794.0 894.6,1794.9 906.9,1796.3 C922.5,1798.1 938.1,1800.5 953.8,1801.4 C969.4,1802.2 985.1,1801.6 1000.7,1801.4 C1020.3,1801.1 1039.8,1799.4 1059.4,1799.8 C1067.3,1799.9 1075.0,1802.2 1082.8,1802.9 C1102.3,1804.6 1121.9,1805.9 1141.5,1806.8 C1164.9,1807.8 1188.4,1808.1 1211.8,1808.5 C1231.4,1808.9 1250.9,1809.3 1270.5,1809.2 C1277.0,1809.2 1283.5,1808.0 1290.0,1808.0 C1306.2,1808.1 1322.3,1809.6 1338.5,1809.7 C1354.7,1809.8 1370.8,1808.6 1387.0,1808.5 C1403.2,1808.4 1419.3,1809.0 1435.5,1809.2 C1451.7,1809.4 1467.8,1810.0 1484.0,1809.7 C1500.2,1809.4 1516.3,1807.9 1532.5,1807.3 C1548.7,1806.7 1564.8,1806.4 1581.0,1806.0 C1597.2,1805.6 1613.4,1805.3 1629.6,1804.9 C1641.7,1804.6 1653.9,1804.4 1666.0,1803.7 C1674.1,1803.2 1682.1,1802.0 1690.2,1801.2 C1698.3,1800.4 1706.3,1799.4 1714.4,1798.8 C1722.3,1798.2 1730.1,1797.9 1738.0,1797.5" fill="none" stroke="#E80000" stroke-width="9" stroke-linejoin="round" stroke-linecap="butt" clip-path="url(#cc)"/>
<line x1="497.3" y1="119" x2="615.7" y2="119" stroke="#000000" stroke-width="8.6" stroke-linecap="round"/>
<line x1="497.3" y1="184.2" x2="615.7" y2="184.2" stroke="#FF8418" stroke-width="8.6" stroke-linecap="round"/>
<line x1="497.3" y1="268.3" x2="615.7" y2="268.3" stroke="#00A2FF" stroke-width="8.6" stroke-linecap="round"/>
<line x1="497.3" y1="333.8" x2="615.7" y2="333.8" stroke="#E80000" stroke-width="8.6" stroke-linecap="round"/>
<line x1="1268.3" y1="114" x2="1386.7" y2="114" stroke="#000000" stroke-width="8.6" stroke-linecap="round"/>
<line x1="1268.3" y1="179.3" x2="1386.7" y2="179.3" stroke="#FF8418" stroke-width="8.6" stroke-linecap="round"/>
<line x1="1268.3" y1="262.9" x2="1386.7" y2="262.9" stroke="#00A2FF" stroke-width="8.6" stroke-linecap="round"/>
<line x1="1268.3" y1="328.5" x2="1386.7" y2="328.5" stroke="#E80000" stroke-width="8.6" stroke-linecap="round"/>
<line x1="1279.8" y1="1332" x2="1400.7" y2="1332" stroke="#000000" stroke-width="8.6" stroke-linecap="round"/>
<line x1="1279.8" y1="1399.3" x2="1400.7" y2="1399.3" stroke="#FF8418" stroke-width="8.6" stroke-linecap="round"/>
<line x1="1279.8" y1="1485" x2="1400.7" y2="1485" stroke="#00A2FF" stroke-width="8.6" stroke-linecap="round"/>
<line x1="1279.8" y1="1551.5" x2="1400.7" y2="1551.5" stroke="#E80000" stroke-width="8.6" stroke-linecap="round"/>
<text transform="translate(80.36,78.91) scale(0.9571,1)" font-family="'Liberation Sans', Arial, sans-serif" font-size="69.91">0.4</text>
<text transform="translate(80.34,334.71) scale(0.9644,1)" font-family="'Liberation Sans', Arial, sans-serif" font-size="69.91">0.3</text>
<text transform="translate(80.32,590.21) scale(0.9718,1)" font-family="'Liberation Sans', Arial, sans-serif" font-size="69.91">0.2</text>
<text transform="translate(80.32,846.01) scale(0.9718,1)" font-family="'Liberation Sans', Arial, sans-serif" font-size="69.91">0.1</text>
<text transform="translate(80.34,1101.51) scale(0.9644,1)" font-family="'Liberation Sans', Arial, sans-serif" font-size="69.91">0.0</text>
<text transform="translate(423.88,1154.91) scale(0.9630,1)" font-family="'Liberation Sans', Arial, sans-serif" font-size="70.19">400</text>
<text transform="translate(802.67,1154.91) scale(0.9630,1)" font-family="'Liberation Sans', Arial, sans-serif" font-size="70.19">600</text>
<text transform="translate(70.01,750.50) rotate(-90)" font-family="'Liberation Sans', Arial, sans-serif" font-size="68.09">Absorbance</text>
<text transform="translate(400.35,1252.16) scale(1.0455,1)" font-family="'Noto Serif CJK SC', 'Liberation Serif', serif" font-size="62.20">λ</text>
<text transform="translate(453.58,1251.32)" font-family="'Liberation Serif', 'Times New Roman', serif" font-size="68.00">(</text>
<text transform="translate(478.33,1252.20) scale(0.9957,1)" font-family="'Liberation Sans', Arial, sans-serif" font-size="68.04">nm</text>
<text transform="translate(571.96,1251.52)" font-family="'Liberation Serif', 'Times New Roman', serif" font-size="68.00">)</text>
<text transform="translate(251.54,172.02) scale(0.7853,1)" font-family="'Liberation Sans', Arial, sans-serif" font-size="78.36">a</text>
<text transform="translate(296.45,169.82) scale(0.7997,1)" font-family="'Liberation Sans', Arial, sans-serif" font-size="80.85">)</text>
<text transform="translate(1756.87,76.52) scale(0.9363,1)" font-family="'Liberation Sans', Arial, sans-serif" font-size="69.48">10</text>
<text transform="translate(1755.00,280.80)" font-family="'Liberation Sans', Arial, sans-serif" font-size="70.50">8</text>
<text transform="translate(1754.00,485.00)" font-family="'Liberation Sans', Arial, sans-serif" font-size="70.50">6</text>
<text transform="translate(1756.00,690.00)" font-family="'Liberation Sans', Arial, sans-serif" font-size="70.50">4</text>
<text transform="translate(1754.00,894.00)" font-family="'Liberation Sans', Arial, sans-serif" font-size="70.50">2</text>
<text transform="translate(1755.00,1099.20)" font-family="'Liberation Sans', Arial, sans-serif" font-size="70.50">0</text>
<text transform="translate(1003.68,1162.31) scale(0.9577,1)" font-family="'Liberation Sans', Arial, sans-serif" font-size="70.05">400</text>
<text transform="translate(1194.08,1162.31) scale(0.9497,1)" font-family="'Liberation Sans', Arial, sans-serif" font-size="70.05">500</text>
<text transform="translate(1381.78,1162.31) scale(0.9923,1)" font-family="'Liberation Sans', Arial, sans-serif" font-size="70.05">600</text>
<text transform="translate(1573.56,1162.31) scale(0.9685,1)" font-family="'Liberation Sans', Arial, sans-serif" font-size="70.05">700</text>
<text transform="translate(1863.82,846.59) rotate(-90)" font-family="'Liberation Sans', Arial, sans-serif" font-size="66.60">Intensity (a.u.)</text>
<text transform="translate(1245.04,1257.35) scale(1.0473,1)" font-family="'Noto Serif CJK SC', 'Liberation Serif', serif" font-size="62.44">λ</text>
<text transform="translate(1300.99,1256.69)" font-family="'Liberation Serif', 'Times New Roman', serif" font-size="68.68">(</text>
<text transform="translate(1323.30,1257.20) scale(1.0053,1)" font-family="'Liberation Sans', Arial, sans-serif" font-size="67.85">nm</text>
<text transform="translate(1416.37,1255.77)" font-family="'Liberation Serif', 'Times New Roman', serif" font-size="67.78">)</text>
<text transform="translate(1024.40,172.50) scale(0.9605,1)" font-family="'Liberation Sans', Arial, sans-serif" font-size="83.29">b</text>
<text transform="translate(1072.78,170.09) scale(0.7641,1)" font-family="'Liberation Sans', Arial, sans-serif" font-size="81.74">)</text>
<text transform="translate(158.31,1316.79) scale(0.9506,1)" font-family="'Liberation Sans', Arial, sans-serif" font-size="71.91">0.6</text>
<text transform="translate(158.36,1491.62) scale(0.9718,1)" font-family="'Liberation Sans', Arial, sans-serif" font-size="70.07">0.4</text>
<text transform="translate(158.29,1666.51) scale(0.9793,1)" font-family="'Liberation Sans', Arial, sans-serif" font-size="70.34">0.2</text>
<text transform="translate(158.31,1845.19) scale(0.9544,1)" font-family="'Liberation Sans', Arial, sans-serif" font-size="71.62">0.0</text>
<text transform="translate(412.30,1912.98) scale(0.9698,1)" font-family="'Liberation Sans', Arial, sans-serif" font-size="72.11">300</text>
<text transform="translate(773.59,1912.98) scale(0.9767,1)" font-family="'Liberation Sans', Arial, sans-serif" font-size="72.11">400</text>
<text transform="translate(1135.37,1912.98) scale(0.9804,1)" font-family="'Liberation Sans', Arial, sans-serif" font-size="72.11">500</text>
<text transform="translate(1495.35,1912.98) scale(0.9830,1)" font-family="'Liberation Sans', Arial, sans-serif" font-size="72.11">600</text>
<text transform="translate(131.96,1739.42) rotate(-90)" font-family="'Liberation Sans', Arial, sans-serif" font-size="68.03">Intensity (a.u)</text>
<text transform="translate(894.69,1974.04) scale(1.0103,1)" font-family="'Noto Serif CJK SC', 'Liberation Serif', serif" font-size="63.87">λ</text>
<text transform="translate(952.17,1971.84)" font-family="'Liberation Serif', 'Times New Roman', serif" font-size="69.72">(</text>
<text transform="translate(974.55,1973.70) scale(0.9903,1)" font-family="'Liberation Sans', Arial, sans-serif" font-size="69.55">nm</text>
<text transform="translate(1072.18,1971.84)" font-family="'Liberation Serif', 'Times New Roman', serif" font-size="70.78">)</text>
<text transform="translate(419.21,1413.02) scale(0.8965,1)" font-family="'Liberation Sans', Arial, sans-serif" font-size="77.82">c</text>
<text transform="translate(459.38,1411.24) scale(0.7717,1)" font-family="'Liberation Sans', Arial, sans-serif" font-size="80.74">)</text>
<text transform="translate(630.77,137.76) scale(0.9765,1)" font-family="'Liberation Sans', Arial, sans-serif" font-size="54.73">Cdots</text>
<text transform="translate(631.00,353.00) scale(0.9765,1)" font-family="'Liberation Sans', Arial, sans-serif" font-size="54.73">Eu-Cdots</text>
<text transform="translate(631.20,205.00) scale(0.9765,1)" font-family="'Liberation Sans', Arial, sans-serif" font-size="54.73">Eu(NO<tspan font-size="35.74" dy="13.13">3</tspan><tspan dy="-13.13">)</tspan><tspan font-size="35.74" dy="13.13">3</tspan></text>
<text transform="translate(631.20,287.00) scale(0.9765,1)" font-family="'Liberation Sans', Arial, sans-serif" font-size="54.73">Cdots + Eu<tspan font-size="36.34" dy="-21.89">3+</tspan></text>
<text transform="translate(1401.77,132.76) scale(0.9765,1)" font-family="'Liberation Sans', Arial, sans-serif" font-size="54.73">Cdots</text>
<text transform="translate(1402.00,348.00) scale(0.9765,1)" font-family="'Liberation Sans', Arial, sans-serif" font-size="54.73">Eu-Cdots</text>
<text transform="translate(1402.20,200.00) scale(0.9765,1)" font-family="'Liberation Sans', Arial, sans-serif" font-size="54.73">Eu(NO<tspan font-size="35.74" dy="13.13">3</tspan><tspan dy="-13.13">)</tspan><tspan font-size="35.74" dy="13.13">3</tspan></text>
<text transform="translate(1402.20,282.00) scale(0.9765,1)" font-family="'Liberation Sans', Arial, sans-serif" font-size="54.73">Cdots + Eu<tspan font-size="36.34" dy="-21.89">3+</tspan></text>
<text transform="translate(1415.65,1351.15) scale(1.0053,1)" font-family="'Liberation Sans', Arial, sans-serif" font-size="54.73">Cdots</text>
<text transform="translate(1415.00,1571.60) scale(1.0053,1)" font-family="'Liberation Sans', Arial, sans-serif" font-size="54.73">Eu-Cdots</text>
<text transform="translate(1415.00,1419.40) scale(1.0053,1)" font-family="'Liberation Sans', Arial, sans-serif" font-size="54.73">Eu(NO<tspan font-size="35.74" dy="13.14">3</tspan><tspan dy="-13.14">)</tspan><tspan font-size="35.74" dy="13.14">3</tspan></text>
<text transform="translate(1415.60,1504.80) scale(1.0053,1)" font-family="'Liberation Sans', Arial, sans-serif" font-size="54.73">Cdots + Eu<tspan font-size="36.34" dy="-21.89">3+</tspan></text>
<text transform="translate(1313.05,462.62) scale(1.0167,1)" font-family="'Noto Serif CJK SC', 'Liberation Serif', serif" font-size="54.15">λ</text>
<text transform="translate(1344.68,463.40) scale(0.9755,1)" font-family="'Liberation Sans', Arial, sans-serif" font-size="60.47">exc = 360 nm</text>
<text transform="translate(1280.50,1644.15) scale(1.0148,1)" font-family="'Noto Serif CJK SC', 'Liberation Serif', serif" font-size="52.44">λ</text>
<text transform="translate(1310.78,1645.32) scale(0.9947,1)" font-family="'Liberation Sans', Arial, sans-serif" font-size="59.18">em = 700 nm</text>
</svg>
</body></html>
